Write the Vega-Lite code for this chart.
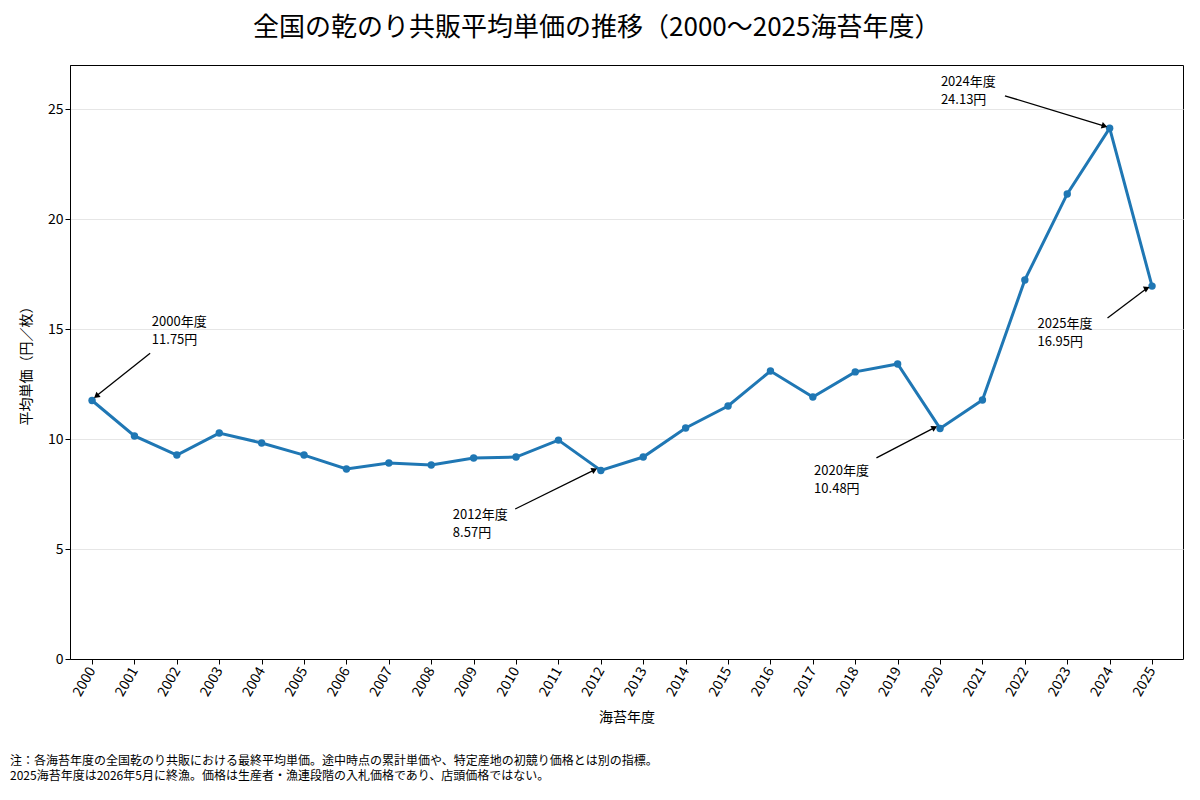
{
  "$schema": "https://vega.github.io/schema/vega-lite/v6.json",
  "background": "white",
  "padding": {"left": 10, "top": 14, "right": 10, "bottom": 2},
  "config": {
    "font": "Noto Sans CJK JP",
    "view": {"stroke": "black", "strokeWidth": 1},
    "axis": {"labelFont": "Noto Sans CJK JP", "titleFont": "Noto Sans CJK JP", "labelFontSize": 14, "titleFontSize": 14, "titleFontWeight": "normal", "labelColor": "black", "titleColor": "black", "tickColor": "black", "domainColor": "black"}
  },
  "title": {"text": "全国の乾のり共販平均単価の推移（2000〜2025海苔年度）", "fontSize": 26, "fontWeight": "normal", "font": "Noto Sans CJK JP", "offset": 24, "anchor": "middle"},
  "datasets": {
    "prices": [
      {"year": 2000, "price": 11.75}, {"year": 2001, "price": 10.14}, {"year": 2002, "price": 9.27},
      {"year": 2003, "price": 10.27}, {"year": 2004, "price": 9.82}, {"year": 2005, "price": 9.27},
      {"year": 2006, "price": 8.64}, {"year": 2007, "price": 8.91}, {"year": 2008, "price": 8.82},
      {"year": 2009, "price": 9.14}, {"year": 2010, "price": 9.18}, {"year": 2011, "price": 9.95},
      {"year": 2012, "price": 8.57}, {"year": 2013, "price": 9.18}, {"year": 2014, "price": 10.5},
      {"year": 2015, "price": 11.5}, {"year": 2016, "price": 13.09}, {"year": 2017, "price": 11.91},
      {"year": 2018, "price": 13.05}, {"year": 2019, "price": 13.41}, {"year": 2020, "price": 10.48},
      {"year": 2021, "price": 11.77}, {"year": 2022, "price": 17.23}, {"year": 2023, "price": 21.14},
      {"year": 2024, "price": 24.13}, {"year": 2025, "price": 16.95}
    ],
    "notes": [
      {"label": "2000年度\n11.75円", "tx": 2001.41, "ty": 15.6, "ax": 2001.37, "ay": 13.9, "px": 2000.1, "py": 11.95, "angle": 231},
      {"label": "2012年度\n8.57円", "tx": 2008.51, "ty": 6.8, "ax": 2009.98, "ay": 6.82, "px": 2011.85, "py": 8.6, "angle": 65},
      {"label": "2020年度\n10.48円", "tx": 2017.03, "ty": 8.8, "ax": 2018.5, "ay": 9.14, "px": 2019.87, "py": 10.52, "angle": 63},
      {"label": "2024年度\n24.13円", "tx": 2020.02, "ty": 26.5, "ax": 2021.53, "ay": 25.6, "px": 2023.88, "py": 24.22, "angle": 107},
      {"label": "2025年度\n16.95円", "tx": 2022.3, "ty": 15.5, "ax": 2023.95, "ay": 15.5, "px": 2024.88, "py": 16.85, "angle": 64}
    ],
    "foot": [
      {"line": 0, "text": "注：各海苔年度の全国乾のり共販における最終平均単価。途中時点の累計単価や、特定産地の初競り価格とは別の指標。"},
      {"line": 1, "text": "2025海苔年度は2026年5月に終漁。価格は生産者・漁連段階の入札価格であり、店頭価格ではない。"}
    ]
  },
  "vconcat": [
    {
      "width": 1113,
      "height": 594,
      "encoding": {},
      "layer": [
        {
          "data": {"name": "prices"},
          "mark": {"type": "line", "color": "#1f77b4", "strokeWidth": 3, "point": {"size": 55, "filled": true, "color": "#1f77b4", "opacity": 1}},
          "encoding": {
            "x": {"field": "year", "type": "quantitative", "scale": {"domain": [1999.48, 2025.73], "nice": false, "zero": false},
              "axis": {"values": [2000,2001,2002,2003,2004,2005,2006,2007,2008,2009,2010,2011,2012,2013,2014,2015,2016,2017,2018,2019,2020,2021,2022,2023,2024,2025], "format": "d", "labelAngle": -60, "grid": false, "title": "海苔年度", "titlePadding": 12, "labelPadding": 4}},
            "y": {"field": "price", "type": "quantitative", "scale": {"domain": [0, 27], "nice": false},
              "axis": {"values": [0,5,10,15,20,25], "title": "平均単価（円／枚）", "grid": true, "gridColor": "#e6e6e6", "titlePadding": 14}}
          }
        },
        {
          "data": {"name": "notes"},
          "mark": {"type": "rule", "color": "black", "strokeWidth": 1.3},
          "encoding": {
            "x": {"field": "ax", "type": "quantitative"}, "y": {"field": "ay", "type": "quantitative"},
            "x2": {"field": "px"}, "y2": {"field": "py"}
          }
        },
        {
          "data": {"name": "notes"},
          "mark": {"type": "point", "shape": "triangle-up", "filled": true, "color": "black", "size": 45, "opacity": 1},
          "encoding": {
            "x": {"field": "px", "type": "quantitative"}, "y": {"field": "py", "type": "quantitative"},
            "angle": {"field": "angle", "type": "quantitative", "scale": null}
          }
        },
        {
          "data": {"name": "notes"},
          "mark": {"type": "text", "align": "left", "baseline": "top", "fontSize": 13, "lineBreak": "\n", "lineHeight": 18, "color": "black"},
          "encoding": {
            "x": {"field": "tx", "type": "quantitative"}, "y": {"field": "ty", "type": "quantitative"},
            "text": {"field": "label"}
          }
        }
      ]
    },
    {
      "width": 1113,
      "height": 30,
      "view": {"stroke": null},
      "data": {"name": "foot"},
      "mark": {"type": "text", "align": "left", "baseline": "top", "fontSize": 12, "color": "black"},
      "encoding": {
        "x": {"value": -60},
        "y": {"field": "line", "type": "quantitative", "scale": {"domain": [0, 2], "range": [0, 30]}, "axis": null},
        "text": {"field": "text"}
      }
    }
  ],
  "spacing": 30
}
